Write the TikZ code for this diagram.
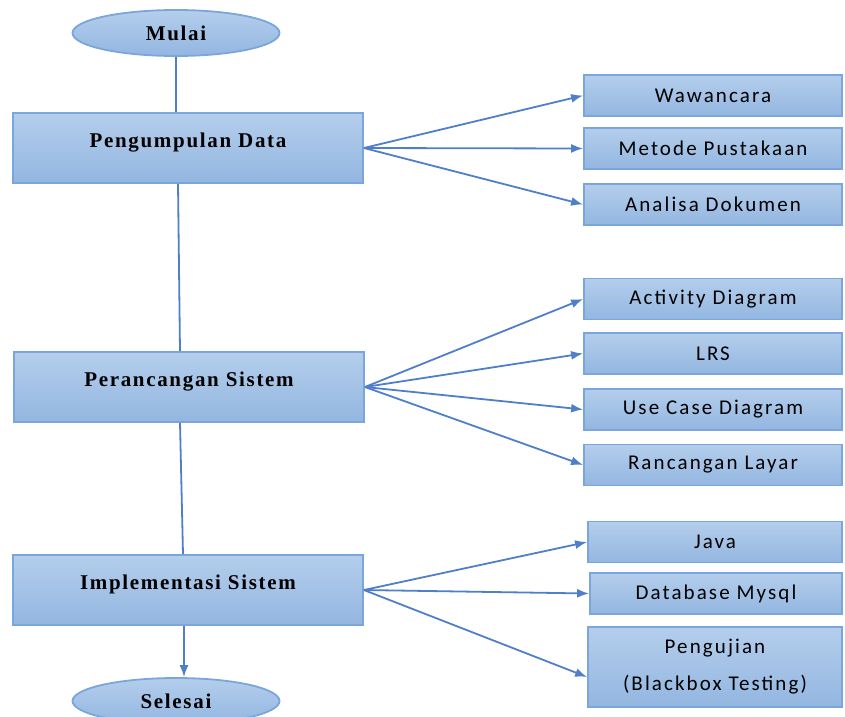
\documentclass[tikz,border=0pt]{standalone}
\usepackage{fontspec}
\setmainfont{Liberation Serif}
\newfontfamily\itemfont[LetterSpace=10]{Carlito}
\newfontfamily\stepfont[LetterSpace=8]{Liberation Serif}
\usetikzlibrary{arrows.meta,shapes.geometric}
\definecolor{boxtop}{HTML}{B4CEEC}
\definecolor{boxbot}{HTML}{93B6E0}
\definecolor{boxline}{HTML}{7BA6DB}
\definecolor{wire}{HTML}{4F7FC9}
\tikzset{
  mainbox/.style={draw=boxline, line width=1.8pt, top color=boxtop, bottom color=boxbot,
    minimum width=350pt, minimum height=70pt, inner sep=0pt, text height=14pt, text depth=16pt,
    font=\stepfont\bfseries\fontsize{21}{24}\selectfont},
  itembox/.style={draw=boxline, line width=1.8pt, top color=boxtop, bottom color=boxbot,
    minimum width=258pt, minimum height=41pt, inner sep=0pt,
    font=\itemfont\fontsize{21}{37}\selectfont},
  endcap/.style={ellipse, draw=boxline, line width=1.8pt, top color=boxtop, bottom color=boxbot,
    minimum width=207pt, minimum height=46pt, inner sep=0pt,
    font=\stepfont\bfseries\fontsize{21}{24}\selectfont},
  wire/.style={draw=wire, line width=1.8pt},
  feed/.style={wire, -{Latex[length=12pt,width=9pt]}}
}
\begin{document}
\begin{tikzpicture}[x=1pt, y=-1pt]
  \useasboundingbox (0,0) rectangle (845,716);
  \node [endcap] (mulai) at (176,33) {Mulai};
  \node [mainbox] (kumpul) at (188,148) {Pengumpulan Data};
  \node [mainbox] (rancang) at (189,387) {Perancangan Sistem};
  \node [mainbox] (implementasi) at (188,590) {Implementasi Sistem};
  \node [endcap] (selesai) at (176,701) {Selesai};

  \node [itembox] (wawancara) at (713,95.5) {Wawancara};
  \node [itembox] (pustaka) at (713,148.5) {Metode Pustakaan};
  \node [itembox] (dokumen) at (713,204.5) {Analisa Dokumen};
  \node [itembox] (activity) at (713,299) {Activity Diagram};
  \node [itembox] (lrs) at (713,353.5) {LRS};
  \node [itembox] (usecase) at (713,409.5) {Use Case Diagram};
  \node [itembox] (layar) at (713,465) {Rancangan Layar};
  \node [itembox, minimum width=254pt] (java) at (715,542) {Java};
  \node [itembox, minimum width=252pt] (mysql) at (716,593.5) {Database Mysql};
  \node [itembox, minimum width=254pt, minimum height=80pt, align=center] (uji) at (715,667)
    {Pengujian\\(Blackbox Testing)};

  \draw [wire] (mulai.south) -- (mulai.south |- kumpul.north);
  \draw [wire] (kumpul.south -| 178,0) -- (rancang.north -| 180,0);
  \draw [wire] (rancang.south -| 180,0) -- (implementasi.north -| 183,0);
  \draw [feed] (implementasi.south -| 184,0) -- (selesai.north -| 184,0);

  \draw [feed] (kumpul.east) -- (wawancara.west);
  \draw [feed] (kumpul.east) -- (pustaka.west);
  \draw [feed] (kumpul.east) -- (dokumen.west);
  \draw [feed] (rancang.east) -- (activity.west);
  \draw [feed] (rancang.east) -- (lrs.west);
  \draw [feed] (rancang.east) -- (usecase.west);
  \draw [feed] (rancang.east) -- (layar.west);
  \draw [feed] (implementasi.east) -- (java.west);
  \draw [feed] (implementasi.east) -- (mysql.west);
  \draw [feed] (implementasi.east) -- ([yshift=-10pt]uji.west);
\end{tikzpicture}
\end{document}
